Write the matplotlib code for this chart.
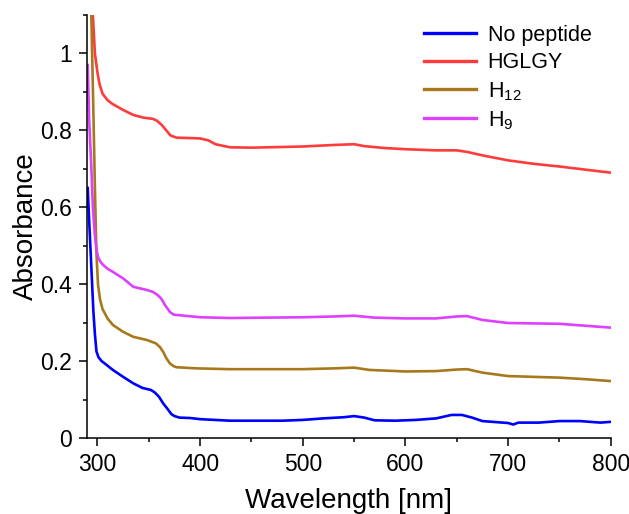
import matplotlib
matplotlib.use("Agg")
import matplotlib.pyplot as plt
from matplotlib.ticker import MultipleLocator

plt.rcParams['font.family'] = ['Liberation Sans', 'DejaVu Sans']
plt.rcParams['mathtext.fontset'] = 'custom'
plt.rcParams['mathtext.rm'] = 'Liberation Sans'
plt.rcParams['mathtext.it'] = 'Liberation Sans:italic'

# ---- data ----
labels = ["No peptide", "HGLGY", r"$\mathregular{H_{12}}$", r"$\mathregular{H_{9}}$"]
colors = ["#0000FF", "#FF3B3B", "#A8791C", "#DD40FF"]

x_nopep = [290.5, 292, 294, 296, 297.5, 299, 301, 304, 307, 315, 325, 335, 344, 352, 356, 360,
           364, 369, 372, 375, 380, 390, 400, 429, 450, 480, 500, 520, 540, 550, 560, 570,
           590, 610, 630, 645, 655, 665, 675, 690, 700, 705, 710, 730, 750, 770, 790, 800]
y_nopep = [0.65, 0.56, 0.445, 0.33, 0.27, 0.225, 0.21, 0.20, 0.194, 0.177, 0.159, 0.142, 0.130,
           0.125, 0.118, 0.107, 0.090, 0.073, 0.062, 0.057, 0.053, 0.052, 0.049, 0.045, 0.045,
           0.045, 0.047, 0.051, 0.054, 0.057, 0.053, 0.046, 0.045, 0.047, 0.051, 0.060, 0.060,
           0.053, 0.044, 0.041, 0.039, 0.035, 0.040, 0.040, 0.044, 0.044, 0.040, 0.042]

x_hglgy = [292, 295.5, 297.5, 300, 302, 305, 310, 315, 325, 335, 345, 354, 358, 363, 367, 371,
           377, 390, 400, 408, 415, 429, 450, 500, 530, 550, 560, 580, 600, 630, 650, 660,
           675, 700, 725, 750, 775, 800]
y_hglgy = [1.40, 1.10, 1.00, 0.95, 0.92, 0.895, 0.878, 0.868, 0.853, 0.840, 0.833, 0.830, 0.825,
           0.813, 0.800, 0.787, 0.781, 0.780, 0.779, 0.774, 0.764, 0.756, 0.755, 0.758, 0.762,
           0.764, 0.759, 0.754, 0.751, 0.748, 0.748, 0.744, 0.735, 0.722, 0.713, 0.706, 0.698,
           0.690]

x_h12 = [291, 294, 296, 297.5, 299, 300.5, 302.5, 305, 307, 310, 315, 320, 325, 335, 348, 357,
         361, 364, 367, 370.5, 374, 377, 397, 429, 500, 530, 550, 565, 600, 630, 650, 660, 675,
         700, 725, 750, 775, 800]
y_h12 = [1.30, 1.10, 0.85, 0.65, 0.48, 0.40, 0.36, 0.335, 0.325, 0.31, 0.294, 0.285, 0.276,
         0.263, 0.255, 0.246, 0.236, 0.224, 0.208, 0.194, 0.187, 0.184, 0.181, 0.179, 0.179,
         0.181, 0.183, 0.177, 0.173, 0.174, 0.178, 0.179, 0.170, 0.161, 0.159, 0.157, 0.153,
         0.148]

x_h9 = [290.5, 292, 294, 295.5, 297.4, 299, 300.6, 303, 305.5, 310, 315, 325, 335, 348, 354,
        358, 362, 366, 370.5, 374, 377, 400, 429, 500, 530, 550, 570, 600, 630, 650, 660, 675,
        700, 750, 775, 800]
y_h9 = [0.97, 0.82, 0.705, 0.60, 0.53, 0.49, 0.47, 0.458, 0.45, 0.44, 0.432, 0.415, 0.393,
        0.385, 0.380, 0.373, 0.363, 0.345, 0.328, 0.321, 0.320, 0.314, 0.312, 0.314, 0.316,
        0.318, 0.313, 0.311, 0.311, 0.316, 0.317, 0.307, 0.299, 0.297, 0.292, 0.287]

series_x = [x_nopep, x_hglgy, x_h12, x_h9]
series_y = [y_nopep, y_hglgy, y_h12, y_h9]

xticks = [300, 400, 500, 600, 700, 800]
yticks = [0, 0.2, 0.4, 0.6, 0.8, 1.0]
ytick_labels = ["0", "0.2", "0.4", "0.6", "0.8", "1"]

# ---- figure ----
fig = plt.figure(figsize=(6.29, 5.14), dpi=100)
ax = fig.add_axes([86.7 / 629, 76 / 514, (610.7 - 86.7) / 629, (438 - 15) / 514])

for xs, ys, c, lab in zip(series_x, series_y, colors, labels):
    ax.plot(xs, ys, color=c, lw=1.9, label=lab, solid_joinstyle='round')

ax.set_xlim(289.5, 800)
ax.set_ylim(0, 1.1)
ax.set_xticks(xticks)
ax.set_yticks(yticks)
ax.set_yticklabels(ytick_labels)
ax.xaxis.set_minor_locator(MultipleLocator(50))
ax.yaxis.set_minor_locator(MultipleLocator(0.1))

for s in ['top', 'right']:
    ax.spines[s].set_visible(False)
for s in ['left', 'bottom']:
    ax.spines[s].set_linewidth(1.1)

ax.tick_params(which='major', direction='out', length=5.5, width=1.1, labelsize=16.5, pad=5)
ax.tick_params(which='minor', direction='out', length=3, width=1.1)

ax.set_xlabel("Wavelength [nm]", fontsize=20, labelpad=9)
ax.set_ylabel("Absorbance", fontsize=20, labelpad=1)

leg = fig.legend(loc='upper left', bbox_to_anchor=(424 / 629, 1 - 25 / 514),
                 frameon=False, fontsize=15.5, handlelength=2.4, handletextpad=0.55,
                 labelspacing=0.3, borderpad=0, borderaxespad=0)
for l in leg.get_lines():
    l.set_linewidth(2.4)

fig.savefig("out.png", dpi=100)
